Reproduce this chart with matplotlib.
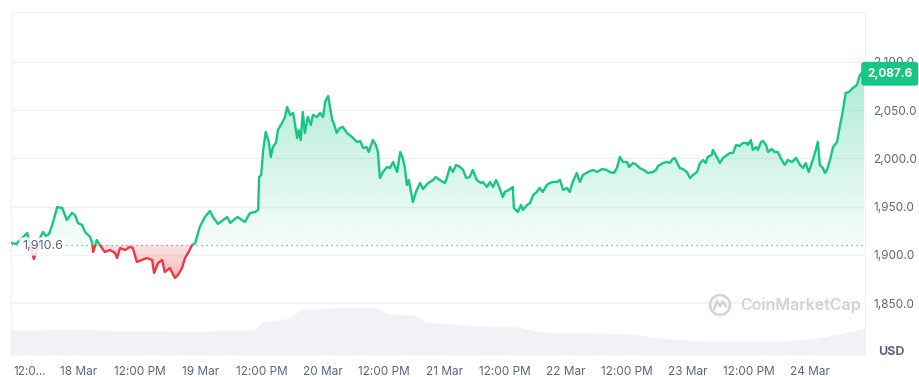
"""Price chart (CoinMarketCap style) for 18-24 Mar, with volume strip."""

import matplotlib
matplotlib.use("Agg")
import matplotlib.pyplot as plt
import numpy as np
from matplotlib.colors import to_rgb
from matplotlib.patches import Circle, PathPatch, Rectangle
from matplotlib.path import Path
from matplotlib.transforms import blended_transform_factory

plt.rcParams["font.family"] = ["Inter", "DejaVu Sans"]

# hours since 18 Mar 00:00
hours = [
    -13.3, -12.4, -11.6, -10.8, -10.2, -9.7, -8.9, -8.3, -7.7, -7.1, -6.5, -5.9,
    -5.1, -4.3, -3.3, -2.4, -1.4, -0.8, -0.2, 0.6, 1.2, 2.2, 2.6, 2.8, 3.5, 4.1,
    5.1, 6.1, 7.1, 7.5, 8.1, 9.1, 10.0, 10.6, 11.4, 12.4, 13.4, 14.4, 14.8, 15.6,
    16.4, 16.9, 17.9, 18.9, 19.5, 20.3, 20.9, 21.5, 22.3, 22.9, 23.8, 24.8, 25.8,
    26.4, 27.4, 28.4, 29.2, 29.8, 30.7, 31.3, 32.1, 32.7, 33.7, 34.7, 35.3, 35.5,
    35.9, 36.3, 36.8, 37.4, 37.8, 38.2, 38.8, 39.2, 40.0, 40.6, 41.0, 41.6, 42.2,
    43.0, 43.3, 43.7, 44.1, 44.5, 45.1, 45.7, 46.1, 46.9, 47.5, 48.1, 48.5, 49.1,
    49.9, 50.2, 50.8, 51.4, 52.0, 52.8, 53.8, 54.8, 55.4, 56.0, 56.7, 57.1, 57.9,
    58.5, 58.9, 59.3, 59.9, 60.7, 61.3, 61.9, 62.7, 63.3, 63.8, 64.2, 64.6, 65.0,
    65.8, 66.4, 67.2, 67.8, 68.8, 69.8, 70.3, 71.1, 72.1, 72.5, 73.1, 73.7, 74.3,
    75.1, 75.7, 76.3, 77.0, 77.6, 78.4, 79.2, 79.6, 80.4, 81.0, 81.6, 82.2, 82.8,
    83.5, 83.9, 84.7, 85.5, 85.7, 86.5, 87.1, 87.5, 88.3, 88.9, 89.5, 90.2, 90.8,
    91.4, 92.2, 92.8, 93.4, 94.2, 94.8, 95.4, 96.2, 96.7, 97.3, 98.1, 98.7, 99.3,
    100.3, 101.3, 102.1, 103.1, 104.0, 104.6, 105.4, 106.0, 106.6, 107.2, 108.0,
    108.4, 109.2, 109.9, 110.5, 111.3, 112.1, 113.1, 113.7, 114.1, 115.1, 115.9,
    116.4, 117.0, 117.4, 117.8, 118.4, 119.0, 119.8, 120.4, 121.0, 121.8, 122.4,
    123.0, 123.5, 123.9, 124.7, 124.9, 125.7, 126.3, 126.9, 127.7, 128.3, 128.9,
    129.5, 130.2, 130.8, 131.6, 131.8, 132.4, 132.8, 133.4, 133.8, 134.4, 134.8,
    135.4, 135.8, 136.5, 137.1, 137.7, 138.5, 139.1, 139.7, 140.5, 141.3, 142.1,
    142.7, 143.2, 143.8, 144.4, 144.8, 145.2, 145.6, 146.0, 146.6, 147.0, 147.4,
    148.0, 148.6, 149.4, 149.8, 150.3, 150.5, 151.1, 151.7, 152.5, 153.3, 153.9,
    154.5, 154.7,
]
price = [
    1912.4, 1911.4, 1915.5, 1919.7, 1922.8, 1910.4, 1895.9, 1905.2, 1917.6, 1923.8,
    1919.7, 1921.7, 1934.2, 1949.7, 1948.6, 1936.2, 1943.5, 1941.4, 1933.1, 1931.1,
    1923.8, 1918.6, 1912.4, 1903.1, 1915.5, 1910.4, 1903.1, 1905.2, 1902.1, 1896.9,
    1907.2, 1905.2, 1908.3, 1907.2, 1892.8, 1894.8, 1896.9, 1894.8, 1881.4, 1891.7,
    1894.8, 1882.4, 1886.5, 1876.2, 1879.3, 1886.5, 1896.9, 1902.1, 1910.4, 1912.4,
    1929.0, 1939.3, 1945.5, 1939.3, 1932.1, 1936.2, 1939.3, 1933.1, 1937.3, 1939.3,
    1936.2, 1934.2, 1943.5, 1944.5, 1946.6, 1980.7, 1982.8, 2008.7, 2027.3, 2017.0,
    2001.4, 2011.8, 2015.9, 2029.4, 2036.6, 2042.8, 2053.2, 2044.9, 2047.0, 2021.1,
    2029.4, 2019.0, 2048.0, 2026.3, 2042.8, 2034.6, 2044.9, 2042.8, 2047.0, 2042.8,
    2058.4, 2064.6, 2039.7, 2036.6, 2026.3, 2031.4, 2032.5, 2026.3, 2022.1, 2017.0,
    2018.0, 2010.7, 2011.8, 2006.6, 2019.0, 2013.9, 2006.6, 1979.7, 1985.9, 1991.1,
    1990.0, 1996.3, 1985.9, 2006.6, 2000.4, 1991.1, 1972.5, 1977.6, 1954.9, 1965.2,
    1974.5, 1968.3, 1974.5, 1977.6, 1980.7, 1977.6, 1974.5, 1979.7, 1991.1, 1985.9,
    1993.2, 1991.1, 1988.0, 1979.7, 1980.7, 1988.0, 1977.6, 1974.5, 1975.6, 1970.4,
    1975.6, 1970.4, 1977.6, 1970.4, 1960.0, 1965.2, 1967.3, 1970.4, 1948.6, 1944.5,
    1951.8, 1946.6, 1951.8, 1953.8, 1962.1, 1965.2, 1969.3, 1965.2, 1972.5, 1974.5,
    1975.6, 1975.6, 1977.6, 1967.3, 1969.3, 1965.2, 1975.6, 1984.9, 1975.6, 1982.8,
    1985.9, 1988.0, 1985.9, 1989.0, 1988.0, 1985.9, 1984.9, 1990.0, 2001.4, 1996.3,
    1996.3, 1991.1, 1995.2, 1993.2, 1990.0, 1988.0, 1984.9, 1985.9, 1988.0, 1992.1,
    1995.2, 1996.3, 1995.2, 1999.4, 2000.4, 1996.3, 1990.0, 1989.0, 1985.9, 1979.7,
    1982.8, 1985.9, 1995.2, 1998.3, 1995.2, 2001.4, 2003.5, 2008.7, 2001.4, 1995.2,
    2000.4, 2003.5, 2005.6, 2005.6, 2013.9, 2012.8, 2015.9, 2015.9, 2013.9, 2019.0,
    2008.7, 2011.8, 2008.7, 2017.0, 2018.0, 2013.9, 2006.6, 2009.7, 2006.6, 2006.6,
    1998.3, 1993.2, 1998.3, 1996.3, 2000.4, 1993.2, 1990.0, 1995.2, 1985.9, 1995.2,
    2001.4, 2008.7, 2017.0, 1993.2, 1990.0, 1984.9, 1988.0, 1998.3, 2011.8, 2017.0,
    2029.4, 2042.8, 2048.0, 2067.7, 2068.7, 2072.8, 2076.0, 2086.3, 2089.4, 2087.6,
]
base_price = 1910.6
last_price = 2087.6

# volume strip (billions USD)
vol_hours = [-13.4, -7.7, 0.0, 8.1, 16.0, 23.8, 27.8, 34.7, 36.1, 41.6, 43.5, 49.5,
             54.4, 58.3, 61.3, 66.2, 68.2, 73.1, 79.0, 86.9, 90.8, 100.7, 108.6,
             114.5, 122.4, 138.1, 144.0, 149.9, 154.9]
volume = [1.02, 1.02, 1.06, 0.98, 0.98, 0.94, 1.02, 1.02, 1.35, 1.51, 1.84, 1.92,
          1.96, 1.92, 1.67, 1.63, 1.35, 1.27, 1.18, 1.14, 0.94, 0.90, 0.86, 0.69,
          0.57, 0.57, 0.65, 0.86, 1.10]

x_ticks = [-9.7, 0, 12, 24, 36, 48, 60, 72, 84, 96, 108, 120, 132, 144]
x_labels = ["12:0...", "18 Mar", "12:00 PM", "19 Mar", "12:00 PM", "20 Mar",
            "12:00 PM", "21 Mar", "12:00 PM", "22 Mar", "12:00 PM", "23 Mar",
            "12:00 PM", "24 Mar"]
y_ticks = [1850, 1900, 1950, 2000, 2050, 2100]

GREEN = "#16c784"
RED = "#ea3943"
TXT = "#58667e"
GRID = "#eff2f5"
X0, X1 = -13.4, 154.9
Y0, Y1 = 1796.5, 2151.5


def gradient_fill(ax, x, y, where, color, a_start, a_end, y_start, y_end):
    """Fill between line and base_price with a vertical alpha gradient."""
    coll = ax.fill_between(x, y, base_price, where=where, interpolate=True,
                           facecolor="none", edgecolor="none")
    clip = Path.make_compound_path(*coll.get_paths())
    patch = PathPatch(clip, transform=ax.transData, facecolor="none",
                      edgecolor="none")
    ax.add_patch(patch)
    rgba = np.zeros((256, 1, 4))
    rgba[..., :3] = to_rgb(color)
    rgba[:, 0, 3] = np.linspace(a_start, a_end, 256)
    # row 0 is drawn at y_start
    im = ax.imshow(rgba, extent=[X0, X1, y_end, y_start], origin="upper",
                   aspect="auto", zorder=1, interpolation="bilinear")
    im.set_clip_path(patch)


fig = plt.figure(figsize=(9.2, 3.77), dpi=100)
pos = [11 / 920, 22 / 377, 854 / 920, 343 / 377]

# volume sits on its own axes underneath
vax = fig.add_axes(pos, zorder=0)
vax.fill_between(vol_hours, 0, volume, color="#f0f2f6", linewidth=0)
vax.set_xlim(X0, X1)
vax.set_ylim(0, 14)
vax.axis("off")

ax = fig.add_axes(pos, zorder=1)
ax.set_facecolor("none")

t = np.array(hours)
p = np.array(price)
gradient_fill(ax, t, p, p >= base_price, GREEN, 0.36, 0.04, 2100, base_price)
gradient_fill(ax, t, p, p <= base_price, RED, 0.14, 0.38, base_price, 1872)

# line: green above the open price, red below
up_clip = Rectangle((X0, base_price), X1 - X0, Y1 - base_price,
                    transform=ax.transData)
dn_clip = Rectangle((X0, Y0), X1 - X0, base_price - Y0, transform=ax.transData)
ln_up, = ax.plot(t, p, color=GREEN, lw=1.7, zorder=3, solid_joinstyle="round")
ln_up.set_clip_path(up_clip)
ln_dn, = ax.plot(t, p, color=RED, lw=1.7, zorder=3, solid_joinstyle="round")
ln_dn.set_clip_path(dn_clip)

ax.axhline(base_price, color="#8a8f98", lw=0.9, ls=(0, (1, 3)), zorder=2)

ax.set_xlim(X0, X1)
ax.set_ylim(Y0, Y1)
ax.set_yticks(y_ticks)
ax.set_yticklabels([f"{v:,.1f}" for v in y_ticks])
ax.yaxis.tick_right()
ax.set_xticks(x_ticks)
ax.set_xticklabels(x_labels)
ax.tick_params(length=0, labelsize=8.5, labelcolor=TXT)
ax.tick_params(axis="x", pad=8)
ax.tick_params(axis="y", pad=6)
ax.grid(axis="y", color=GRID, lw=1)
ax.set_axisbelow(True)
for side, spine in ax.spines.items():
    spine.set_color(GRID)
    spine.set_visible(side != "bottom")

# open price label on the left
ax.text(-11.2, base_price - 1.8, "1,910.6", fontsize=9, color=TXT, va="center",
        ha="left", zorder=5,
        bbox=dict(boxstyle="round,pad=0.25", fc="white", ec="none", alpha=0.85))

# current price tag on the right axis
tr = blended_transform_factory(ax.transAxes, ax.transData)
ax.text(1.029, last_price, f"{last_price:,.1f}", transform=tr, fontsize=8.5,
        fontweight="bold", color="white", ha="center", va="center", zorder=10,
        clip_on=False,
        bbox=dict(boxstyle="round,pad=0.5,rounding_size=0.25", fc=GREEN, ec="none"))

fig.text(891 / 920, 1 - 352 / 377, "USD", fontsize=9, fontweight="bold",
         color=TXT, ha="center", va="center")

# watermark
lax = fig.add_axes([709 / 920, 1 - 316 / 377, 22 / 920, 22 / 377], zorder=2)
lax.set_xlim(-1, 1)
lax.set_ylim(-1, 1)
lax.axis("off")
lax.add_patch(Circle((0, 0), 0.9, fill=False, ec="#cfd3da", lw=1.8))
lax.plot([-0.55, -0.25, 0.0, 0.25, 0.55], [-0.35, 0.35, -0.1, 0.35, -0.15],
         color="#cfd3da", lw=1.8, solid_capstyle="round")
fig.text(740 / 920, 1 - 305 / 377, "CoinMarketCap", fontsize=11.5,
         fontweight="semibold", color="#cfd3da", ha="left", va="center")

fig.savefig("out.png", dpi=100)
